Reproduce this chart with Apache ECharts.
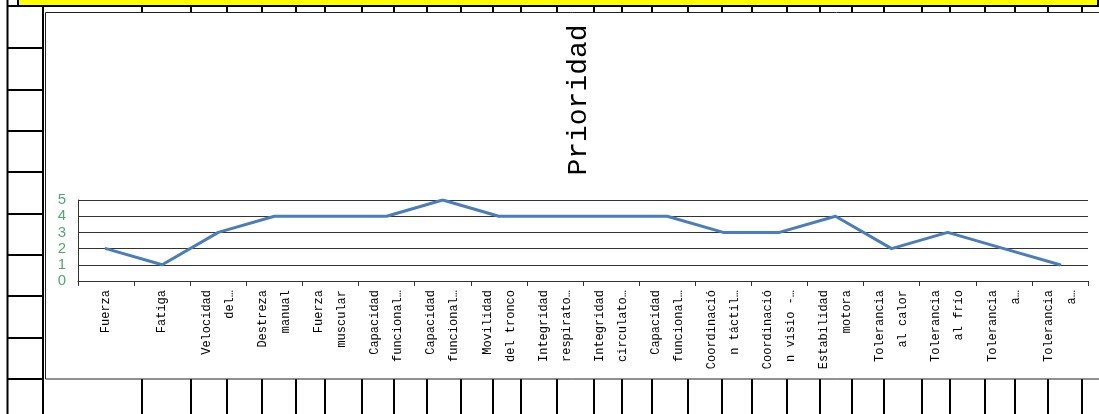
<!DOCTYPE html>
<html>
<head>
<meta charset="utf-8">
<script src="https://cdn.jsdelivr.net/npm/echarts@6/dist/echarts.min.js"></script>
<style>
html,body{margin:0;padding:0;background:#fff;}
#chart{width:1099px;height:414px;}
</style>
</head>
<body>
<div id="chart"></div>
<script>
// ---- data ----
const chartTitle = 'Prioridad';
const categories = [
  'Fuerza',
  'Fatiga',
  'Velocidad\ndel…',
  'Destreza\nmanual',
  'Fuerza\nmuscular',
  'Capacidad\nfuncional…',
  'Capacidad\nfuncional…',
  'Movilidad\ndel tronco',
  'Integridad\nrespirato…',
  'Integridad\ncirculato…',
  'Capacidad\nfuncional…',
  'Coordinació\nn táctil…',
  'Coordinació\nn visio -…',
  'Estabilidad\nmotora',
  'Tolerancia\nal calor',
  'Tolerancia\nal frío',
  'Tolerancia\na…',
  'Tolerancia\na…'
];
const prioridad = [2, 1, 3, 4, 4, 4, 5, 4, 4, 4, 4, 3, 3, 4, 2, 3, 2, 1];
const yTicks = [0, 1, 2, 3, 4, 5];

// ---- spreadsheet backdrop (decoration only) ----
const sheetCols = [142,191,227,262,296,325,362,394,427,461,493,521,557,594,622,652,688,722,752,787,820,852,884,922,950,985,1015,1048,1082];
const sheetRows = [48,90,131,172,214,255,296,338,379];

const graphics = [];
graphics.push({type:'line', shape:{x1:7.5,y1:0,x2:7.5,y2:414}, style:{stroke:'#000',lineWidth:2}, z:-10});
graphics.push({type:'line', shape:{x1:43,y1:6,x2:43,y2:414}, style:{stroke:'#000',lineWidth:2}, z:-10});
sheetRows.forEach(function(y){
  graphics.push({type:'line', shape:{x1:7,y1:y,x2:43,y2:y}, style:{stroke:'#000',lineWidth:2}, z:-10});
});
sheetCols.forEach(function(x){
  graphics.push({type:'line', shape:{x1:x,y1:6,x2:x,y2:13}, style:{stroke:'#000',lineWidth:2}, z:-10});
  graphics.push({type:'line', shape:{x1:x,y1:379,x2:x,y2:414}, style:{stroke:'#000',lineWidth:2}, z:-10});
});
graphics.push({type:'rect', shape:{x:18,y:-2,width:1080,height:8}, style:{fill:'#ffff00',stroke:'#000',lineWidth:2}, z:-9});
graphics.push({type:'line', shape:{x1:7,y1:6,x2:1099,y2:6}, style:{stroke:'#000',lineWidth:2}, z:-9});
graphics.push({type:'rect', shape:{x:45.5,y:12.5,width:1100,height:366.5}, style:{fill:'#fff',stroke:'#222',lineWidth:1}, z:-8});
graphics.push({type:'text', x:579, y:100, rotation:Math.PI/2, z:-7,
  style:{text:chartTitle, fill:'#000', font:'28px "Liberation Mono", monospace', align:'center', verticalAlign:'middle'}});

const chart = echarts.init(document.getElementById('chart'), null, {renderer:'canvas'});
chart.setOption({
  animation: false,
  backgroundColor: '#fff',
  graphic: graphics,
  grid: {left:78, right:11, top:200, bottom:133, containLabel:false},
  xAxis: {
    type:'category',
    z: 5,
    data: categories,
    boundaryGap: true,
    axisLine: {show:true, lineStyle:{color:'#333', width:1}},
    axisTick: {show:true, length:5, interval:0, lineStyle:{color:'#333'}},
    axisLabel: {interval:0, rotate:90, margin:9, color:'#000',
      fontFamily:'"Liberation Mono", monospace', fontSize:12, lineHeight:23}
  },
  yAxis: {
    type:'value', z: 5,
    min:yTicks[0], max:yTicks[yTicks.length-1], interval:1,
    axisLine: {show:true, lineStyle:{color:'#333', width:1}},
    axisTick: {show:false},
    splitLine: {show:true, lineStyle:{color:'#333', width:1}},
    axisLabel: {color:'#4fa873', fontFamily:'"Liberation Sans", sans-serif', fontSize:15, margin:12}
  },
  series: [{
    type:'line',
    z: 10,
    data: prioridad,
    showSymbol:false,
    symbol:'none',
    lineStyle:{color:'#4a7ebb', width:3, join:'round', cap:'round'},
    itemStyle:{color:'#4a7ebb'}
  }]
});
</script>
</body>
</html>
